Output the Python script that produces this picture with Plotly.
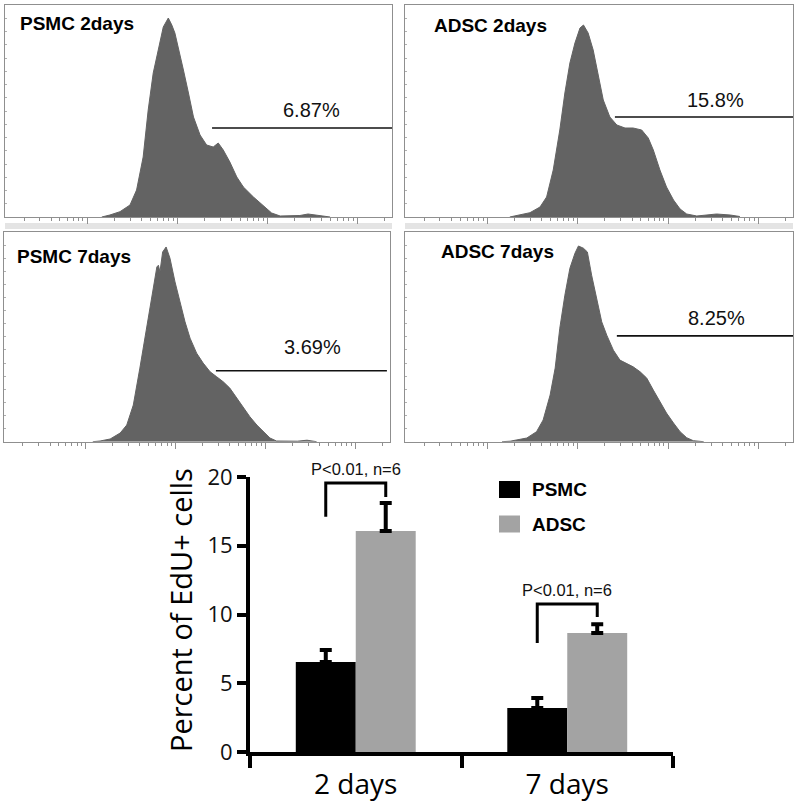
import numpy as np
import plotly.graph_objects as go

# ---------------- Data: flow-cytometry histograms (channel, count) ----------------
psmc2_ch = [250, 271, 297, 323, 340, 357, 370, 383, 396, 409, 422, 431, 439, 448, 461, 474, 487, 504, 521,
            538, 551, 564, 581, 599, 616, 642, 667, 689, 711, 762, 783, 814, 840]
psmc2_cnt = [0, 2, 5.3, 12, 27, 60, 107, 144, 167, 190, 199, 192, 184, 170, 147, 124, 100, 82, 72,
             70, 74, 67, 55, 40, 30, 20, 12, 4, 1, 1.5, 3, 1, 0]

adsc2_ch = [270, 296, 322, 348, 365, 382, 399, 412, 425, 438, 451, 460, 472, 485, 498, 511, 528, 546, 567,
            588, 610, 627, 640, 657, 674, 692, 709, 726, 752, 803, 838, 863]
adsc2_cnt = [0, 2, 4.3, 10, 20, 47, 87, 124, 154, 174, 189, 192, 184, 167, 140, 117, 100, 92, 89,
             89, 87, 79, 67, 47, 30, 17, 8, 3, 1, 3, 2, 0.5]

psmc7_ch = [230, 249, 275, 301, 318, 335, 352, 365, 378, 387, 396, 400, 404, 411, 420, 430, 443, 456, 469,
            482, 499, 516, 534, 551, 568, 585, 603, 620, 637, 655, 672, 689, 706, 760, 785, 810]
psmc7_cnt = [0, 0.7, 2.7, 8.7, 16.7, 36.7, 73.7, 103.7, 133.7, 153.7, 175, 176.7, 170, 190, 195, 183.7, 160, 140, 120,
             103.7, 88.7, 78.7, 70, 65, 60, 53.7, 43.7, 33.7, 25, 16.7, 10, 3.7, 0.7, 0.5, 1.5, 0]

adsc7_ch = [250, 271, 314, 339, 356, 374, 387, 399, 412, 425, 438, 447, 460, 470, 481, 494, 507, 520, 537,
            554, 571, 588, 606, 623, 640, 657, 674, 692, 709, 726, 743, 770]
adsc7_cnt = [0, 0.5, 3.7, 10, 21.7, 46.7, 73.7, 113.7, 146.7, 173.7, 188.7, 196, 193.7, 190, 166.7, 143.7, 120, 106.7, 91.7,
             81.7, 78.7, 75, 70, 63.7, 51.7, 40, 28.7, 18.7, 10, 4, 1, 0]

panel_titles = ["PSMC 2days", "ADSC 2days", "PSMC 7days", "ADSC 7days"]
gate_pct = ["6.87%", "15.8%", "3.69%", "8.25%"]
gate_start = [535, 541, 549, 546]
gate_end = [1000, 1000, 992, 1000]
gate_level = [89, 100, 71, 106]

# ---------------- Data: bar chart ----------------
categories = ["2 days", "7 days"]
psmc_mean = [6.55, 3.2]
psmc_err = [0.87, 0.73]
adsc_mean = [16.07, 8.65]
adsc_err = [2.03, 0.65]
y_ticks = [0, 5, 10, 15, 20]
sig_text = ["P<0.01, n=6", "P<0.01, n=6"]
bracket_top = [19.56, 10.76]
bracket_left_base = [17.1, 7.93]
bracket_right_base = [18.55, 9.82]

W, H = 800, 805
def px(x):
    return x / W
def py(y):
    return 1 - y / H

HIST_COLOR = "#636363"
FRAME = "#8f8f8f"
TXT_FONT = "Arial, Liberation Sans, sans-serif"
SANS = "Open Sans, Noto Sans, sans-serif"

fig = go.Figure()

# panel geometry (pixel boxes): left, right, top, bottom
panels = [
    dict(box=(5, 392, 5, 217), ch=psmc2_ch, cnt=psmc2_cnt, ymax=212, lab=(793, 107), tit=(34, 194)),
    dict(box=(405, 793, 5, 217), ch=adsc2_ch, cnt=adsc2_cnt, ymax=212, lab=(799, 117), tit=(70, 192)),
    dict(box=(4, 390, 232, 441.7), ch=psmc7_ch, cnt=psmc7_cnt, ymax=210, lab=(798, 95), tit=(28, 185)),
    dict(box=(405, 793, 232, 441.7), ch=adsc7_ch, cnt=adsc7_cnt, ymax=210, lab=(802, 124), tit=(88, 190)),
]

decades = [-21 + 233 * k for k in range(0, 5)]
minor_vals = [d + 233 * np.log10(m) for d in decades for m in range(2, 10)]
minor_vals = [float(v) for v in minor_vals if 0 < v < 1000]
major_vals = [float(d) for d in decades if 0 < d < 1000]

annotations = []
shapes = []
for i, p in enumerate(panels):
    n = i + 1
    xa = "x" if n == 1 else f"x{n}"
    ya = "y" if n == 1 else f"y{n}"
    l, r, t, b = p["box"]
    fig.add_trace(go.Scatter(x=p["ch"], y=p["cnt"], mode="lines", fill="tozeroy",
                             fillcolor=HIST_COLOR, line=dict(color=HIST_COLOR, width=1),
                             xaxis=xa, yaxis=ya, showlegend=False, hoverinfo="skip"))
    fig.add_trace(go.Scatter(x=[gate_start[i], gate_end[i]], y=[gate_level[i], gate_level[i]],
                             mode="lines", line=dict(color="#111111", width=1.6),
                             xaxis=xa, yaxis=ya, showlegend=False, hoverinfo="skip"))
    axkey = "xaxis" if n == 1 else f"xaxis{n}"
    aykey = "yaxis" if n == 1 else f"yaxis{n}"
    fig.update_layout(**{
        axkey: dict(domain=[px(l), px(r)], range=[0, 1000], anchor=ya, showgrid=False, zeroline=False,
                    automargin=False,
                    showline=True, mirror=True, linecolor=FRAME, linewidth=1.2,
                    tickmode="array", tickvals=major_vals, ticks="outside", ticklen=6, tickcolor=FRAME,
                    tickwidth=1, showticklabels=False,
                    minor=dict(tickvals=minor_vals, ticks="outside", ticklen=3, tickcolor=FRAME, tickwidth=1)),
        aykey: dict(domain=[py(b), py(t)], range=[0, p["ymax"]], anchor=xa, showgrid=False, zeroline=False,
                    automargin=False,
                    showline=True, mirror=True, linecolor=FRAME, linewidth=1.2,
                    tickmode="linear", tick0=0, dtick=p["ymax"] / 16, ticks="inside", ticklen=2,
                    tickcolor="#b0b0b0", showticklabels=False),
    })
    annotations.append(dict(x=p["lab"][0], y=p["lab"][1], xref=xa, yref=ya, text=gate_pct[i],
                            showarrow=False, font=dict(family=TXT_FONT, size=20, color="#111111"),
                            xanchor="center", yanchor="middle"))
    annotations.append(dict(x=p["tit"][0], y=p["tit"][1], xref=xa, yref=ya, text=f"<b>{panel_titles[i]}</b>",
                            showarrow=False, font=dict(family=TXT_FONT, size=19, color="#000000"),
                            xanchor="left", yanchor="middle"))

# grey strips under the top panels
for (l, r) in [(5, 392), (405, 793)]:
    shapes.append(dict(type="rect", xref="paper", yref="paper", x0=px(l), x1=px(r), y0=py(229), y1=py(223),
                       fillcolor="#e4e4e4", line=dict(width=0), layer="below"))

# ---------------- Bar chart ----------------
x_pos = list(range(len(categories)))
fig.add_trace(go.Bar(x=x_pos, y=psmc_mean, name="PSMC", marker=dict(color="#000000", line=dict(width=0)),
                     error_y=dict(type="data", array=psmc_err, arrayminus=[0] * len(x_pos), symmetric=False,
                                  color="#000000", thickness=4, width=6),
                     xaxis="x5", yaxis="y5", showlegend=False))
fig.add_trace(go.Bar(x=x_pos, y=adsc_mean, name="ADSC", marker=dict(color="#a3a3a3", line=dict(width=0)),
                     error_y=dict(type="data", array=adsc_err, arrayminus=[0] * len(x_pos), symmetric=False,
                                  color="#000000", thickness=4, width=6),
                     xaxis="x5", yaxis="y5", showlegend=False))

BAR_Y0, BAR_Y1, BAR_MAX = 752, 477, 20
def bar_paper_y(v):
    return py(BAR_Y0) + (v / BAR_MAX) * (py(BAR_Y1) - py(BAR_Y0))

off = 30 / 211.5
for j in x_pos:
    xl, xr = j - off, j + off
    fig.add_trace(go.Scatter(x=[xl, xl, xr, xr],
                             y=[bracket_left_base[j], bracket_top[j], bracket_top[j], bracket_right_base[j]],
                             mode="lines", line=dict(color="#000000", width=3),
                             xaxis="x5", yaxis="y5", showlegend=False, hoverinfo="skip", cliponaxis=False))
    annotations.append(dict(x=j, y=bar_paper_y(bracket_top[j] + 1.05), xref="x5", yref="paper", text=sig_text[j],
                            showarrow=False, font=dict(family=TXT_FONT, size=16.5, color="#111111"),
                            xanchor="center", yanchor="middle"))

fig.update_layout(
    xaxis5=dict(domain=[px(250), px(673)], anchor="y5", range=[-0.5, 1.5], automargin=False,
                showgrid=False, zeroline=False, showline=True, linecolor="#000000", linewidth=4,
                tickmode="array", tickvals=x_pos, ticktext=categories, ticks="", ticklen=0,
                tickfont=dict(family=SANS, size=28, color="#000000"), ticklabelstandoff=4,
                minor=dict(tickvals=[-0.5, 0.5, 1.5], ticks="outside", ticklen=12, tickwidth=4,
                           tickcolor="#000000")),
    yaxis5=dict(domain=[py(BAR_Y0), py(BAR_Y1)], anchor="x5", range=[0, BAR_MAX], showgrid=False, zeroline=False,
                automargin=False,
                showline=True, linecolor="#000000", linewidth=4, tickmode="array", tickvals=y_ticks,
                ticks="outside", ticklen=9, tickwidth=4, tickcolor="#000000",
                tickfont=dict(family=SANS, size=22, color="#111111")),
    bargap=0.433, bargroupgap=0, barmode="group",
)

annotations.append(dict(x=px(180), y=py(610), xref="paper", yref="paper", text="Percent of EdU+ cells",
                        textangle=-90, showarrow=False, font=dict(family=SANS, size=29, color="#000000"),
                        xanchor="center", yanchor="middle"))

# legend (manual)
legend_items = [("PSMC", "#000000", 489.5), ("ADSC", "#a3a3a3", 524)]
for name, col, yc in legend_items:
    shapes.append(dict(type="rect", xref="paper", yref="paper", x0=px(499), x1=px(520),
                       y0=py(yc + 8.5), y1=py(yc - 8.5), fillcolor=col, line=dict(width=0)))
    annotations.append(dict(x=px(530), y=py(yc), xref="paper", yref="paper", text=f"<b>{name}</b>",
                            showarrow=False, font=dict(family=TXT_FONT, size=19, color="#000000"),
                            xanchor="left", yanchor="middle"))

fig.update_layout(width=W, height=H, margin=dict(l=0, r=0, t=0, b=0, autoexpand=False),
                  paper_bgcolor="white", plot_bgcolor="white", template="none",
                  annotations=annotations, shapes=shapes, showlegend=False)

fig.write_html("out.html", config={"displayModeBar": False},
               post_script="document.body.style.margin='0';document.body.style.overflow='hidden';")
